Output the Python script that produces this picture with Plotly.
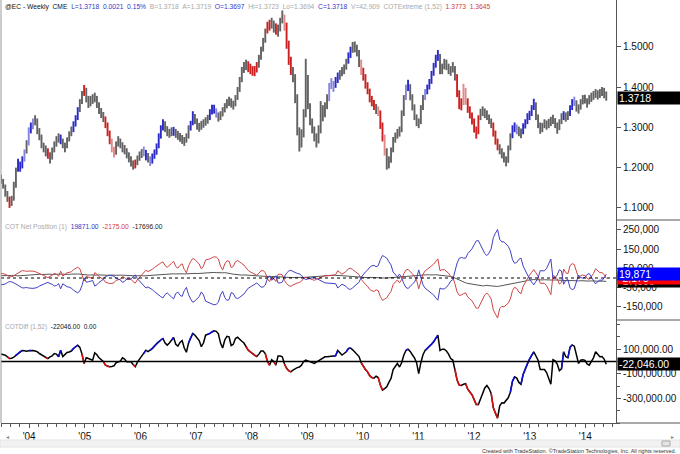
import numpy as np
import pandas as pd
import plotly.graph_objects as go

# ---------------- DATA (bi-weekly) ----------------
end_date = "2014-05-19"

price_low = [
    1.165, 1.16, 1.148, 1.128, 1.115, 1.10, 1.105, 1.118, 1.15, 1.19,
    1.19, 1.198, 1.215, 1.235, 1.255, 1.285, 1.295, 1.305, 1.283, 1.268,
    1.248, 1.238, 1.228, 1.222, 1.21, 1.22, 1.238, 1.252, 1.262, 1.258,
    1.248, 1.238, 1.248, 1.265, 1.278, 1.288, 1.302, 1.318, 1.338, 1.358,
    1.378, 1.362, 1.348, 1.352, 1.358, 1.362, 1.348, 1.333, 1.323, 1.313,
    1.298, 1.278, 1.258, 1.238, 1.225, 1.232, 1.252, 1.248, 1.238, 1.233,
    1.223, 1.213, 1.203, 1.195, 1.198, 1.206, 1.217, 1.224, 1.228, 1.218,
    1.213, 1.204, 1.21, 1.222, 1.232, 1.248, 1.272, 1.292, 1.288, 1.278,
    1.274, 1.278, 1.279, 1.274, 1.269, 1.264, 1.259, 1.254, 1.262, 1.272,
    1.292, 1.305, 1.308, 1.294, 1.289, 1.294, 1.299, 1.304, 1.309, 1.318,
    1.332, 1.334, 1.324, 1.314, 1.318, 1.327, 1.337, 1.347, 1.353, 1.349,
    1.344, 1.352, 1.368, 1.388, 1.412, 1.435, 1.442, 1.437, 1.432, 1.428,
    1.427, 1.436, 1.448, 1.468, 1.488, 1.51, 1.533, 1.54, 1.545, 1.535,
    1.53, 1.525, 1.538, 1.558, 1.54, 1.495, 1.455, 1.43, 1.412, 1.36,
    1.28, 1.24, 1.25, 1.275, 1.325, 1.345, 1.305, 1.285, 1.265, 1.25,
    1.26, 1.285, 1.315, 1.325, 1.345, 1.365, 1.395, 1.388, 1.398, 1.41,
    1.418, 1.427, 1.432, 1.443, 1.458, 1.472, 1.485, 1.486, 1.476, 1.45,
    1.43, 1.416, 1.396, 1.382, 1.362, 1.352, 1.343, 1.333, 1.328, 1.296,
    1.265, 1.23, 1.195, 1.198, 1.212, 1.238, 1.262, 1.272, 1.277, 1.288,
    1.328, 1.368, 1.39, 1.367, 1.342, 1.318, 1.303, 1.298, 1.308, 1.343,
    1.368, 1.382, 1.394, 1.408, 1.428, 1.448, 1.465, 1.432, 1.432, 1.444,
    1.442, 1.432, 1.428, 1.436, 1.416, 1.375, 1.345, 1.342, 1.355, 1.356,
    1.336, 1.322, 1.307, 1.287, 1.272, 1.283, 1.318, 1.328, 1.323, 1.318,
    1.308, 1.298, 1.277, 1.257, 1.243, 1.233, 1.223, 1.213, 1.203, 1.212,
    1.243, 1.273, 1.288, 1.283, 1.278, 1.273, 1.283, 1.297, 1.308, 1.318,
    1.328, 1.343, 1.318, 1.298, 1.284, 1.288, 1.298, 1.294, 1.298, 1.303,
    1.308, 1.298, 1.284, 1.293, 1.308, 1.318, 1.314, 1.318, 1.328, 1.343,
    1.353, 1.339, 1.334, 1.344, 1.357, 1.359, 1.349, 1.357, 1.363, 1.368,
    1.373, 1.369, 1.373, 1.378, 1.372, 1.366,
]

price_high = [
    1.19, 1.182, 1.172, 1.158, 1.142, 1.128, 1.13, 1.165, 1.2, 1.222,
    1.215, 1.228, 1.245, 1.268, 1.3, 1.312, 1.322, 1.33, 1.322, 1.298,
    1.282, 1.262, 1.255, 1.248, 1.238, 1.25, 1.265, 1.278, 1.285, 1.282,
    1.272, 1.262, 1.275, 1.29, 1.302, 1.315, 1.33, 1.35, 1.37, 1.39,
    1.405, 1.398, 1.378, 1.378, 1.382, 1.386, 1.378, 1.362, 1.348, 1.338,
    1.327, 1.312, 1.292, 1.272, 1.252, 1.265, 1.278, 1.272, 1.263, 1.256,
    1.248, 1.238, 1.228, 1.218, 1.22, 1.23, 1.24, 1.246, 1.252, 1.244,
    1.236, 1.228, 1.235, 1.245, 1.26, 1.285, 1.305, 1.32, 1.315, 1.303,
    1.296, 1.3, 1.301, 1.296, 1.291, 1.286, 1.281, 1.276, 1.285, 1.305,
    1.316, 1.34, 1.333, 1.322, 1.311, 1.316, 1.32, 1.325, 1.331, 1.345,
    1.356, 1.356, 1.347, 1.337, 1.34, 1.35, 1.36, 1.37, 1.376, 1.372,
    1.366, 1.38, 1.4, 1.425, 1.45, 1.462, 1.468, 1.464, 1.458, 1.452,
    1.452, 1.462, 1.48, 1.5, 1.522, 1.545, 1.562, 1.567, 1.572, 1.565,
    1.558, 1.555, 1.572, 1.59, 1.58, 1.56, 1.515, 1.475, 1.45, 1.432,
    1.382, 1.3, 1.295, 1.345, 1.47, 1.43, 1.36, 1.322, 1.302, 1.285,
    1.305, 1.365, 1.355, 1.362, 1.382, 1.41, 1.422, 1.415, 1.425, 1.436,
    1.442, 1.45, 1.456, 1.47, 1.486, 1.5, 1.512, 1.513, 1.505, 1.492,
    1.468, 1.448, 1.432, 1.412, 1.396, 1.378, 1.368, 1.358, 1.352, 1.342,
    1.312, 1.282, 1.248, 1.228, 1.25, 1.276, 1.287, 1.296, 1.302, 1.342,
    1.38, 1.406, 1.418, 1.407, 1.382, 1.357, 1.332, 1.322, 1.355, 1.38,
    1.395, 1.406, 1.42, 1.44, 1.46, 1.48, 1.492, 1.482, 1.458, 1.47,
    1.468, 1.458, 1.452, 1.462, 1.452, 1.432, 1.392, 1.372, 1.408, 1.398,
    1.372, 1.352, 1.337, 1.322, 1.302, 1.33, 1.346, 1.352, 1.347, 1.342,
    1.332, 1.322, 1.312, 1.292, 1.272, 1.258, 1.248, 1.238, 1.228, 1.255,
    1.285, 1.305, 1.312, 1.307, 1.302, 1.297, 1.31, 1.32, 1.335, 1.341,
    1.355, 1.371, 1.362, 1.332, 1.312, 1.311, 1.32, 1.317, 1.321, 1.326,
    1.331, 1.323, 1.312, 1.32, 1.335, 1.34, 1.337, 1.34, 1.355, 1.37,
    1.376, 1.367, 1.357, 1.37, 1.38, 1.381, 1.372, 1.38, 1.386, 1.39,
    1.395, 1.392, 1.395, 1.4, 1.398, 1.389,
]

# COTDiff (large specs minus commercials), thousands of contracts
cot_diff_k = [
    65, 62, 58, 51, 38, 24, 27, 35, 50, 65,
    80, 90, 88, 84, 88, 92, 90, 85, 79, 65,
    55, 45, 30, 24, 38, 46, 65, 60, 38, 92,
    40, 60, 73, 77, 85, 106, 120, 133, 115, 60,
    -16, 30, 24, 15, 11, 70, 55, 30, 15, 0,
    -30, -40, -43, -40, -35, -10, 0, 3, 30, 20,
    -3, 0, -3, -25, -43, -5, 20, 38, 65, 92,
    80, 90, 106, 125, 145, 160, 175, 187, 150, 133,
    150, 175, 195, 140, 125, 155, 170, 110, 75, 150,
    195, 228, 214, 190, 170, 120, 150, 214, 220, 228,
    240, 250, 245, 225, 150, 110, 175, 205, 200, 130,
    140, 187, 198, 185, 165, 150, 120, 92, 78, 65,
    50, 40, 60, 85, 85, 65, 0, -30, 15, 0,
    -30, 45, 45, 38, -20, -55, -75, -84, -70, -57,
    -50, -45, -30, 0, 11, 5, -3, -8, -16, -5,
    5, 11, 25, 38, 38, 40, 40, 44, 46, 90,
    70, 52, 65, 79, 105, 110, 95, 75, 60, 40,
    -10, -40, -65, -84, -115, -130, -135, -120, -130, -192,
    -233, -220, -206, -170, -138, -65, -35, -16, -45, -10,
    51, 90, 100, 82, 55, 30, -10, -98, -10, 55,
    90, 105, 125, 140, 160, 190, 214, 90, 100, 100,
    85, 60, 24, 12, -60, -150, -192, -195, -185, -180,
    -225, -250, -270, -310, -350, -350, -301, -250, -215, -195,
    -220, -260, -375, -420, -460, -360, -335, -338, -315, -295,
    -250, -160, -125, -135, -170, -185, -105, -60, -16, 20,
    50, 79, 45, 10, -65, -62, -65, -90, -140, -185,
    15, 5, -20, -75, -60, 79, 40, 30, 115, 135,
    125, 40, -16, 11, 15, 10, -20, -30, 5, 30,
    79, 55, 38, 40, 20, -22.046,
]

# Small speculators (non-reportable) net, thousands of contracts
small_spec_k = [
    12, 12, 13, 11, 10, 12, 13, 14, 12, 11, 12, 13, 14, 15, 16, 17,
    18, 19, 20, 19, 18, 19, 20, 21, 20, 19, 18, 19, 20, 21, 20, 19, 18, 19, 20, 21, 22, 21, 20,
    18, 15, 14, 15, 16, 15, 14, 15, 16, 15, 14, 13, 14, 15, 16, 15, 14, 15, 16, 15, 14, 13, 12, 12,
    12, 11, 12, 13, 12, 11, 12, 13, 14, 15, 16, 17, 18, 19, 20, 21, 22,
    22, 23, 22, 21, 22, 23, 22, 21, 22, 23, 24, 25, 24, 23, 24, 25, 26, 27, 28, 29, 30, 29, 28,
    27, 26, 27, 28, 27, 25, 22, 20, 18, 16,
    15, 15, 16, 15, 14, 15, 14, 13, 12, 11, 10, 9, 8,
    7, 7, 8, 7, 6, 7, 6, 5, 5, 4, 3, 3, 2, 3, 2, 2,
    3, 3, 4, 5, 6, 7, 8, 9, 10, 11, 12, 13, 14, 14, 15, 14, 13, 14, 13, 12, 11, 10, 9,
    8, 7, 6, 5, 4, 3, 3, 2, 2, 3, 3, 4, 3, 2, 1, 0, -1, 0, 1, 2, 3, 4, 4, 5, 6, 7, 8, 9, 10, 11, 12,
    13, 14, 15, 16, 16, 17, 16, 15, 16, 17, 16, 15, 14, 13, 12, 10, 8, 5,
    0, -5, -12, -18, -22, -25, -28, -30, -33, -35, -36, -38, -40, -41, -40, -38, -40, -42,
    -44, -45, -44, -42, -40, -38, -36, -34, -32, -30, -28, -26, -24, -22, -20, -16, -12,
    -10, -8, -8, -9, -10, -11, -10, -9, -10, -11, -12, -11, -10, -11, -12, -13,
    -14, -15, -14, -13, -14, -15, -16, -15, -14, -15, -16, -17, -16, -15, -16, -17, -18, -17,
    -16, -17, -17.696,
]

year_ticks = ["2004-01-01", "2005-01-01", "2006-01-01", "2007-01-01", "2008-01-01",
              "2009-01-01", "2010-01-01", "2011-01-01", "2012-01-01", "2013-01-01",
              "2014-01-01"]
year_labels = ["'04", "'05", "'06", "'07", "'08", "'09", "'10", "'11", "'12", "'13", "'14"]

price_ticks = [1.1, 1.2, 1.3, 1.4, 1.5]
price_tick_text = ["1.1000", "1.2000", "1.3000", "1.4000", "1.5000"]
cot_ticks = [250000, 150000, 50000, -50000, -150000]
cot_tick_text = ["250,000", "150,000", "50,000", "-50,000", "-150,000"]
diff_ticks = [100000, -100000, -300000]
diff_tick_text = ["100,000.00", "-100,000.00", "-300,000.00"]

last_close = 1.3718

# ---------------- derived series ----------------
n = min(len(price_low), len(price_high), len(cot_diff_k), len(small_spec_k))
dates = pd.date_range(end=end_date, periods=n, freq="14D")
low = np.array(price_low[:n])
high = np.array(price_high[:n])
cot_diff = np.array(cot_diff_k[:n]) * 1000.0
small = np.array(small_spec_k[:n]) * 1000.0
large_spec = (cot_diff - small) / 2.0        # red
commercial = -(cot_diff + small) / 2.0       # blue

# COTExtreme(1,52): 52-week (26 bi-weekly points) extremes of the COT difference
win = 26
level = []
for i in range(n):
    if i < 5:
        level.append(0)
        continue
    w = cot_diff[max(0, i - win + 1): i + 1]
    mx, mn = w.max(), w.min()
    rng = mx - mn
    p = (cot_diff[i] - mn) / rng if rng > 0 else 0.5
    if cot_diff[i] >= mx:
        level.append(2)
    elif cot_diff[i] <= mn:
        level.append(-2)
    elif p >= 0.95:
        level.append(1)
    elif p <= 0.05:
        level.append(-1)
    else:
        level.append(0)

bar_cmap = {2: "#2a2ac4", 1: "#8484dc", 0: "#626262", -1: "#e08a8a", -2: "#cc2020"}
bar_colors = [bar_cmap[v] for v in level]

seg = {2: ([], []), -2: ([], [])}
for i in range(1, n):
    if level[i] in seg:
        xs, ys = seg[level[i]]
        xs += [dates[i - 1], dates[i], None]
        ys += [cot_diff[i - 1], cot_diff[i], None]

# ---------------- figure ----------------
W, H = 680, 454
ML, MR, MT, MB = 1, 64, 0, 31
plot_h = H - MT - MB
plot_w = W - ML - MR


def py(px):  # pixel row -> paper y
    return (plot_h - (px - MT)) / plot_h


def pxx(px):  # pixel column -> paper x
    return (px - ML) / plot_w


top_dom = [py(220), 1.0]
mid_dom = [py(320), py(220)]
bot_dom = [0.0, py(320)]

FONT = "Arial, Liberation Sans, sans-serif"

fig = go.Figure()

fig.add_trace(go.Bar(
    x=dates, y=high - low, base=low, marker_color=bar_colors,
    marker_line_width=0, width=12.5 * 86400000, xaxis="x", yaxis="y",
    showlegend=False, hoverinfo="skip"))

fig.add_trace(go.Scatter(x=dates, y=small, mode="lines",
                         line=dict(color="#555555", width=1), xaxis="x", yaxis="y2",
                         showlegend=False))
fig.add_trace(go.Scatter(x=dates, y=large_spec, mode="lines",
                         line=dict(color="#d04444", width=1), xaxis="x", yaxis="y2",
                         showlegend=False))
fig.add_trace(go.Scatter(x=dates, y=commercial, mode="lines",
                         line=dict(color="#4040c4", width=1), xaxis="x", yaxis="y2",
                         showlegend=False))

fig.add_trace(go.Scatter(x=dates, y=cot_diff, mode="lines",
                         line=dict(color="#000000", width=1.5), xaxis="x", yaxis="y3",
                         showlegend=False))
fig.add_trace(go.Scatter(x=seg[2][0], y=seg[2][1], mode="lines",
                         line=dict(color="#1010e0", width=1.5), xaxis="x", yaxis="y3",
                         showlegend=False, connectgaps=False))
fig.add_trace(go.Scatter(x=seg[-2][0], y=seg[-2][1], mode="lines",
                         line=dict(color="#e01010", width=1.5), xaxis="x", yaxis="y3",
                         showlegend=False, connectgaps=False))

axis_col = "#555555"
tickfont = dict(family=FONT, size=10, color="#111111")

fig.update_layout(
    width=W, height=H,
    margin=dict(l=ML, r=MR, t=MT, b=MB, pad=0, autoexpand=False),
    paper_bgcolor="white", plot_bgcolor="white",
    showlegend=False,
    xaxis=dict(
        domain=[0, 1], anchor="y3", type="date", automargin=False,
        range=["2003-06-30", "2014-07-22"],
        tickmode="array", tickvals=year_ticks, ticktext=year_labels,
        ticks="outside", ticklen=4, tickcolor=axis_col, tickfont=tickfont,
        minor=dict(tickmode="linear", tick0="2004-01-01", dtick="M2",
                   ticks="outside", ticklen=3, tickcolor=axis_col),
        showline=True, linecolor=axis_col, linewidth=1,
        showgrid=False, zeroline=False),
    yaxis=dict(
        domain=top_dom, anchor="x", side="right", range=[1.070, 1.616],
        automargin=False,
        tickmode="array", tickvals=price_ticks, ticktext=price_tick_text,
        ticks="outside", ticklen=4, tickcolor=axis_col, tickfont=tickfont,
        showline=True, linecolor=axis_col, showgrid=False, zeroline=False),
    yaxis2=dict(
        domain=mid_dom, anchor="x", side="right", range=[-218200, 301300],
        automargin=False,
        tickmode="array", tickvals=cot_ticks, ticktext=cot_tick_text,
        ticks="outside", ticklen=4, tickcolor=axis_col, tickfont=tickfont,
        showline=True, linecolor=axis_col, showgrid=False, zeroline=False),
    yaxis3=dict(
        domain=bot_dom, anchor="x", side="right", range=[-500000, 337400],
        automargin=False,
        tickmode="array", tickvals=diff_ticks, ticktext=diff_tick_text,
        ticks="outside", ticklen=4, tickcolor=axis_col, tickfont=tickfont,
        minor=dict(tickmode="linear", tick0=0, dtick=100000, ticks="outside",
                   ticklen=3, tickcolor=axis_col),
        showline=True, linecolor=axis_col, showgrid=False, zeroline=False),
)

shapes = []
# zero lines
shapes.append(dict(type="line", xref="x domain", yref="y2", x0=0, x1=1, y0=0, y1=0,
                   line=dict(color="#000000", width=1, dash="dot")))
shapes.append(dict(type="line", xref="x domain", yref="y3", x0=0, x1=1, y0=0, y1=0,
                   line=dict(color="#000000", width=1.5)))
# left border
shapes.append(dict(type="line", xref="paper", yref="paper", x0=0, x1=0, y0=0, y1=1,
                   line=dict(color="#9a9a9a", width=1)))
# separators in the axis area
for yy in (top_dom[0], mid_dom[0], 0.0):
    shapes.append(dict(type="line", xref="paper", yref="paper", x0=1, x1=1.2,
                       y0=yy, y1=yy, line=dict(color=axis_col, width=1)))
# scroll bar
shapes.append(dict(type="rect", xref="paper", yref="paper",
                   x0=pxx(0), x1=pxx(680), y0=py(447), y1=py(440),
                   fillcolor="#f2f2f2", line=dict(color="#e2e2e2", width=1)))
shapes.append(dict(type="rect", xref="paper", yref="paper",
                   x0=pxx(662), x1=pxx(670), y0=py(446), y1=py(441),
                   fillcolor="#e4e4e4", line=dict(color="#a8a8a8", width=1)))
fig.update_layout(shapes=shapes)

ann = []


def hdr(y_paper, parts, size):
    txt = "\u00a0\u00a0".join("<span style='color:%s'>%s</span>" % (c, t) for t, c in parts)
    ann.append(dict(xref="paper", yref="paper", x=0, y=y_paper, xanchor="left",
                    yanchor="top", xshift=2, yshift=-1, showarrow=False, text=txt,
                    font=dict(family=FONT, size=size, color="#000")))


blue_t, gray_t, red_t = "#3535c8", "#a8a8a8", "#d03a3a"
hdr(1.0, [("@EC - Weekly\u00a0\u00a0CME", "#111111"),
          ("L=1.3718\u00a0\u00a00.0021\u00a0\u00a00.15%", blue_t),
          ("B=1.3718\u00a0\u00a0A=1.3719", gray_t),
          ("O=1.3697", blue_t),
          ("Hi=1.3723\u00a0\u00a0Lo=1.3694", gray_t),
          ("C=1.3718", blue_t),
          ("V=42,909\u00a0\u00a0COTExtreme (1,52)", gray_t),
          ("1.3773\u00a0\u00a01.3645", red_t)], 6.7)
hdr(top_dom[0], [("COT Net Position (1)", gray_t),
                 ("%.2f" % commercial[-1], blue_t),
                 ("%.2f" % large_spec[-1], red_t),
                 ("%.2f" % small[-1], "#222222")], 6.7)
hdr(mid_dom[0], [("COTDiff (1,52)", gray_t),
                 ("%.2f\u00a0\u00a00.00" % cot_diff[-1], "#111111")], 6.5)


def box(yref, yval, text, bg):
    ann.append(dict(xref="paper", yref=yref, x=1, y=yval, xanchor="left",
                    yanchor="middle", xshift=1, showarrow=False, text=text,
                    bgcolor=bg, width=60, height=10, align="left", borderpad=1,
                    font=dict(family=FONT, size=10.5, color="white")))


box("y", last_close, "%.4f" % last_close, "#000000")
box("y2", small[-1], "{:,.0f}".format(small[-1]), "#000000")
box("y2", large_spec[-1], "{:,.0f}".format(large_spec[-1]), "#ff0000")
box("y2", commercial[-1], "{:,.0f}".format(commercial[-1]), "#0000ff")
box("y3", cot_diff[-1], "{:,.2f}".format(cot_diff[-1]), "#000000")

# scroll arrows and footer
ann.append(dict(xref="paper", yref="paper", x=pxx(4), y=py(443.5), showarrow=False,
                text="\u25c2", font=dict(size=6, color="#888888")))
ann.append(dict(xref="paper", yref="paper", x=pxx(676), y=py(443.5), showarrow=False,
                text="\u25b8", font=dict(size=6, color="#888888")))
ann.append(dict(xref="paper", yref="paper", x=pxx(679), y=py(450.5), xanchor="right",
                yanchor="middle", showarrow=False,
                text="Created with TradeStation. \u00a9TradeStation Technologies, Inc. All rights reserved.",
                font=dict(family=FONT, size=5.5, color="#333333")))

fig.update_layout(annotations=ann)

fig.write_html("out.html",
               config={"displayModeBar": False, "staticPlot": True},
               post_script="document.body.style.margin='0px';"
                           "document.body.style.padding='0px';"
                           "document.body.style.overflow='hidden';")
